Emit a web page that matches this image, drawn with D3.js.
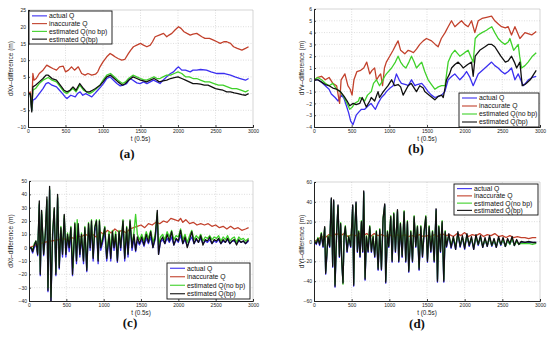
<!DOCTYPE html>
<html>
<head>
<meta charset="utf-8">
<script src="https://cdn.jsdelivr.net/npm/d3@7"></script>
<style>
  body { margin: 0; background: #fff; }
  svg { display: block; }
  .tick text { font-family: "Liberation Sans", Arial, sans-serif; font-size: 5px; fill: #222; }
  .lab { font-family: "Liberation Sans", Arial, sans-serif; fill: #222; }
  .legtxt { font-family: "Liberation Sans", Arial, sans-serif; font-size: 6.8px; fill: #111; }
  .panel-id { font-family: "Liberation Serif", "DejaVu Serif", serif; font-weight: bold; font-size: 13px; fill: #111; }
</style>
</head>
<body>
<div id="chart"></div>
<script>
// series names and colours
var seriesNames = ["actual Q", "inaccurate Q", "estimated Q(no bp)", "estimated Q(bp)"];
var seriesColors = ["#3b2ff0", "#c2412c", "#3fd12a", "#111111"];

var xTicks = [0, 500, 1000, 1500, 2000, 2500, 3000];

// ---- panel (a): dXv-difference ----
var aBlue = [[0,0],[30,0],[50,-5],[65,-2],[100,-1.5],[150,0],[200,1.5],[240,3],[270,3.3],[320,2.5],[380,2],[420,1],[460,0],[495,-1],[520,-1.5],[570,-0.5],[630,-1],[660,0],[695,0.5],[730,-0.5],[770,0],[810,-0.5],[850,-1],[890,0],[930,1],[970,2],[1005,3],[1050,4.5],[1095,5],[1140,4],[1185,3],[1230,2.3],[1270,2.5],[1315,3],[1360,4.5],[1400,4],[1450,3.2],[1495,3],[1540,3.5],[1585,3],[1630,3.5],[1673,4],[1720,3.5],[1760,3],[1800,4],[1850,5],[1900,6],[1940,6.5],[1980,7.5],[2007,8],[2050,7],[2100,7],[2163,6.5],[2200,7],[2250,7],[2300,7.2],[2380,7],[2440,6.5],[2520,6],[2563,6],[2620,6],[2700,5.5],[2760,5],[2830,4.5],[2900,4],[2941,4.5]];
var aRed = [[0,0],[30,0.5],[50,-4],[65,6],[80,4],[110,4.5],[150,6],[200,7],[250,8.5],[290,8],[330,7.5],[380,7],[420,8],[470,8.2],[500,6.5],[540,7],[580,8],[620,7],[670,8],[715,6],[760,5.5],[800,6],[850,5.5],[900,5.8],[930,6.5],[960,8],[1000,9.5],[1050,11],[1095,12],[1130,11.5],[1160,11],[1200,10.5],[1250,10],[1290,10.2],[1340,12],[1370,13],[1406,14],[1450,14.5],[1500,15],[1540,14.5],[1585,14],[1630,14.5],[1660,15.5],[1695,17],[1750,17.5],[1807,18],[1850,17],[1880,17.5],[1918,18],[1960,19],[2007,20],[2040,19.5],[2080,18.5],[2120,18],[2163,17.5],[2200,17.8],[2250,18],[2318,17],[2360,16.5],[2420,16.5],[2474,16],[2520,15.5],[2563,15],[2610,15.5],[2650,15.5],[2700,15],[2741,14],[2790,13.5],[2852,13],[2900,13.5],[2941,14]];
var aGreen = [[0,0],[30,0],[50,-5],[65,1],[100,1.5],[150,3],[200,4],[270,4.8],[320,4],[380,3.5],[430,2],[480,0.5],[520,0],[570,1],[600,1.5],[640,0.5],[690,2.5],[740,1],[780,0.5],[820,0],[860,0.5],[900,1.2],[960,2.5],[1000,4],[1050,5.5],[1100,6],[1150,5],[1200,4],[1260,3],[1300,3.5],[1340,4.5],[1400,5.5],[1450,5],[1500,4.5],[1540,4.2],[1580,4],[1630,4.5],[1680,5],[1720,4.5],[1760,4.5],[1800,5],[1850,5.5],[1900,5.5],[1950,6],[2000,6.5],[2050,6],[2100,5],[2150,5],[2200,4.5],[2250,4.5],[2300,4],[2360,3.5],[2420,3.5],[2480,3],[2540,2.5],[2600,2.5],[2660,2],[2720,1.5],[2780,1.5],[2840,1],[2900,0.5],[2941,1]];
var aBlack = [[0,0],[30,0],[50,-5.5],[65,2],[100,2.5],[150,3.5],[200,4.5],[240,5.5],[270,5.5],[320,4.5],[380,4],[430,2.5],[480,1],[520,0.5],[560,1],[600,2],[640,1],[690,3],[740,1.5],[780,0.5],[820,0.5],[860,1],[900,1.5],[960,2.5],[1000,3.5],[1050,5],[1100,5.5],[1150,4.5],[1200,3.5],[1260,2.5],[1300,3],[1340,4],[1400,5],[1450,4.5],[1500,4],[1540,3.8],[1580,3.5],[1630,4],[1680,4.5],[1720,4],[1750,3.5],[1800,3.8],[1850,4],[1900,4.5],[1950,4.8],[2000,5],[2050,4.5],[2100,4],[2150,3.5],[2200,3],[2250,3],[2300,2.8],[2350,2.5],[2400,2.5],[2450,2],[2500,1.5],[2560,1.2],[2600,1],[2650,0.5],[2700,0.5],[2750,0.2],[2800,0],[2850,-0.3],[2900,-0.5],[2941,0]];
var aYTicks = [-10, -5, 0, 5, 10, 15, 20, 25];

// ---- panel (b): dYv-difference ----
var bBlue = [[0,0],[50,0],[100,-0.2],[150,-0.5],[200,-0.8],[230,-1.2],[280,-1.5],[320,-1.8],[364,-1.3],[400,-1.6],[430,-2.2],[460,-2.8],[487,-3.5],[518,-3.8],[560,-3],[600,-2.7],[630,-2.5],[673,-2.5],[720,-2.2],[757,-2],[790,-2.3],[815,-2.5],[850,-2],[895,-1.5],[940,-1.2],[961,-1],[1010,-0.7],[1050,-0.5],[1094,0.5],[1130,0],[1160,-0.3],[1220,-0.4],[1250,-0.5],[1294,0],[1340,-0.5],[1370,-0.4],[1430,-0.3],[1470,-0.6],[1515,-1],[1560,-1.3],[1604,-1.5],[1650,-1.4],[1693,-1.3],[1737,-1],[1781,0],[1830,0.3],[1869,0.5],[1936,0],[1980,0.3],[2025,0.7],[2070,0.2],[2113,-0.5],[2180,0.5],[2270,1],[2357,1.5],[2400,1.2],[2445,1],[2490,0.7],[2534,0.5],[2578,0.7],[2622,1],[2667,0],[2711,0.5],[2778,-0.5],[2820,-0.2],[2845,0],[2900,0.2],[2950,0.3]];
var bRed = [[0,0],[50,0.2],[100,0.3],[150,0],[200,0.2],[250,-0.3],[300,-0.5],[340,-2],[360,0],[410,0.5],[450,-0.5],[480,-0.8],[505,-1.3],[530,0],[570,0.7],[620,0.8],[660,1],[700,1.5],[740,0.5],[770,0.8],[805,1],[830,0],[860,0.3],[885,0.5],[910,-0.5],[935,1],[960,1.5],[1005,2],[1050,2.5],[1090,3],[1116,3.3],[1150,2.5],[1205,2.2],[1250,2.5],[1290,2.4],[1320,2.3],[1360,2.6],[1404,3],[1450,3.3],[1493,3.5],[1560,3.3],[1610,3],[1648,2.8],[1690,3.5],[1740,4],[1781,4.5],[1825,5],[1870,4.5],[1920,4.8],[1958,5],[2000,4.7],[2046,4.5],[2091,5],[2135,4],[2180,5],[2230,5.2],[2290,5.3],[2357,5.4],[2400,5],[2450,4.7],[2490,4.5],[2540,4.4],[2578,4.5],[2622,3.8],[2667,4.5],[2700,4],[2733,3.5],[2800,4],[2890,3.8],[2950,4.1]];
var bGreen = [[0,0],[50,0.2],[100,0],[150,-0.3],[200,-0.5],[250,-0.3],[300,-0.8],[350,-1],[400,-1.5],[440,-2],[474,-2.5],[510,-2.3],[540,-2],[590,-1.8],[606,-1.5],[640,-1.6],[673,-1.8],[710,-1.3],[760,-1],[790,-0.3],[828,0],[870,-0.5],[900,-0.2],[940,0.3],[961,0.5],[1030,1],[1080,1.5],[1116,2],[1150,1.5],[1183,1.2],[1220,1],[1260,1.5],[1294,2],[1330,1.5],[1360,1],[1400,1.3],[1430,1.5],[1470,0.7],[1515,0],[1560,-0.4],[1604,-0.8],[1650,-0.6],[1693,-0.5],[1740,-0.5],[1760,0.5],[1781,1.5],[1830,2.2],[1869,2.5],[1910,2.2],[1936,2],[2000,2.3],[2046,2.5],[2091,1.8],[2113,1.5],[2140,3.5],[2180,3.8],[2230,4],[2290,4.2],[2312,4.3],[2360,4.5],[2400,4],[2445,3.5],[2490,3.2],[2534,3],[2578,3.2],[2600,3.5],[2650,2.5],[2711,3],[2730,2],[2755,1],[2800,1.2],[2842,1.5],[2900,2],[2950,2.3]];
var bBlack = [[0,0],[50,0],[100,-0.2],[150,-0.4],[200,-0.5],[250,-0.7],[300,-0.8],[350,-1],[400,-1.4],[440,-1.8],[474,-2.2],[520,-2],[560,-2.1],[607,-2],[640,-1.5],[695,-2.3],[740,-1.8],[760,-1.5],[805,-1.8],[850,-1],[870,-1.5],[920,-1],[983,-0.5],[1030,0],[1070,-0.5],[1116,-0.4],[1150,-0.6],[1183,-1.3],[1250,-0.5],[1290,-0.3],[1360,-1],[1404,-0.5],[1450,-0.7],[1470,-1],[1530,-1.3],[1604,-1.7],[1650,-1.4],[1693,-1.3],[1716,-1.5],[1759,0],[1800,0.5],[1826,1],[1870,1.3],[1914,1.5],[1958,1.2],[1980,1],[2040,1.3],[2091,1.5],[2113,0.3],[2140,2],[2200,2.5],[2270,2.8],[2312,3],[2360,3],[2400,2.8],[2450,2.3],[2480,2],[2540,1.5],[2578,1.6],[2622,2],[2660,1.5],[2690,1],[2733,1.5],[2764,-0.5],[2800,-0.4],[2820,-0.3],[2870,0],[2920,0.5],[2950,0.8]];
var bYTicks = [-4, -3, -2, -1, 0, 1, 2, 3, 4, 5, 6];

// ---- panel (c): dXt-difference ----
var cBlue = [[0,0],[30,-1],[49,-4],[71,0],[93,3],[116,-6],[138,32],[151,-21],[169,25],[196,-6],[218,8],[240,35],[254,-33],[276,43],[294,-40],[316,8],[338,27],[360,-21],[383,37],[405,-16],[427,13],[449,-7],[472,22],[494,-7],[516,8],[538,-3],[561,13],[583,-21],[614,15],[636,-12],[659,15],[681,-7],[703,8],[730,-12],[748,13],[774,-18],[797,15],[819,-2],[837,17],[859,-10],[881,12],[903,17],[926,-12],[943,17],[961,-2],[983,3],[1015,12],[1041,-10],[1072,8],[1095,-10],[1117,10],[1139,-2],[1161,8],[1184,-11],[1206,10],[1228,-2],[1259,17],[1282,-10],[1308,12],[1326,-7],[1353,17],[1380,-2],[1406,7],[1428,-3],[1451,5],[1480,2],[1510,6],[1540,1],[1570,7],[1600,3],[1630,8],[1660,0],[1690,6],[1718,22],[1735,-5],[1760,4],[1790,6],[1820,3],[1850,7],[1880,4],[1910,8],[1940,2],[1970,6],[2000,4],[2030,9],[2060,3],[2090,6],[2120,1],[2150,5],[2180,8],[2210,3],[2240,6],[2270,4],[2300,7],[2330,3],[2360,5],[2390,4],[2420,6],[2450,3],[2480,5],[2510,4],[2540,6],[2570,3],[2600,5],[2630,4],[2660,6],[2690,3],[2720,5],[2750,5],[2780,3],[2810,5],[2840,4],[2870,5],[2900,3],[2941,5]];
var cRed = [[0,0],[100,2],[200,4],[300,5],[400,6],[450,7],[500,6],[550,8],[600,7],[650,9],[700,8],[750,10],[800,9],[850,10],[900,8],[950,12],[1000,10],[1050,13],[1100,11],[1150,14],[1200,12],[1250,13],[1300,11],[1350,14],[1400,15],[1450,16],[1500,17],[1550,15],[1600,18],[1650,17],[1700,19],[1750,18],[1800,20],[1850,19],[1900,22],[1950,21],[2000,20],[2030,22],[2060,19],[2100,21],[2150,18],[2200,19],[2250,17],[2300,18],[2350,17],[2400,18],[2450,16],[2500,17],[2550,15],[2600,16],[2650,14],[2700,16],[2750,14],[2800,15],[2850,13],[2900,14],[2941,15]];
var cGreen = [[0,0],[30,0],[49,-2],[71,3],[93,5],[116,-4],[138,33],[151,-18],[169,27],[196,-3],[218,11],[240,36],[254,-30],[276,44],[294,-37],[316,11],[338,29],[360,-18],[383,38],[405,-13],[427,16],[449,-3],[472,24],[494,-3],[516,11],[538,2],[561,16],[590,-15],[614,19],[636,-8],[645,21],[681,-3],[703,11],[730,-8],[748,16],[774,-15],[797,19],[819,2],[837,21],[859,-6],[881,16],[903,21],[926,-8],[943,21],[961,2],[983,7],[1015,16],[1041,-6],[1072,12],[1100,-3],[1117,13],[1139,2],[1161,12],[1184,-8],[1206,13],[1228,2],[1259,21],[1282,-6],[1308,16],[1326,-3],[1353,21],[1380,2],[1406,12],[1428,25],[1451,10],[1480,6],[1510,10],[1540,5],[1570,12],[1600,7],[1630,13],[1660,4],[1690,10],[1718,26],[1735,2],[1760,8],[1790,10],[1820,6],[1850,12],[1880,8],[1910,13],[1940,6],[1970,9],[2000,8],[2030,14],[2060,6],[2090,10],[2120,4],[2150,9],[2180,13],[2210,6],[2240,9],[2270,7],[2300,10],[2330,5],[2360,8],[2390,7],[2420,9],[2450,6],[2480,8],[2510,7],[2540,9],[2570,5],[2600,8],[2630,6],[2660,9],[2690,5],[2720,7],[2750,8],[2780,4],[2810,8],[2840,6],[2870,7],[2900,5],[2941,7]];
var cBlack = [[0,0],[30,0],[49,-3],[71,2],[93,5],[116,-5],[138,35],[151,-20],[169,28],[196,-5],[218,10],[240,38],[254,-32],[276,46],[294,-40],[316,10],[338,30],[360,-20],[383,40],[405,-15],[427,15],[449,-5],[472,25],[494,-5],[516,10],[538,0],[561,15],[583,-20],[614,18],[636,-10],[659,18],[681,-5],[703,10],[730,-10],[748,15],[774,-17],[797,18],[819,0],[837,20],[859,-8],[881,15],[903,20],[926,-10],[943,20],[961,0],[983,5],[1015,15],[1041,-8],[1072,10],[1095,-8],[1117,12],[1139,0],[1161,10],[1184,-10],[1206,12],[1228,0],[1259,20],[1282,-8],[1308,15],[1326,-5],[1353,20],[1380,0],[1406,10],[1428,-2],[1451,8],[1480,3],[1510,8],[1540,2],[1570,10],[1600,4],[1630,12],[1660,0],[1690,8],[1718,28],[1735,-5],[1760,5],[1790,8],[1820,3],[1850,10],[1880,5],[1910,12],[1940,2],[1970,7],[2000,5],[2030,13],[2060,3],[2090,8],[2120,0],[2150,6],[2180,12],[2210,3],[2240,7],[2270,4],[2300,9],[2330,2],[2360,6],[2390,5],[2420,8],[2450,3],[2480,6],[2510,5],[2540,7],[2570,3],[2600,6],[2630,4],[2660,7],[2690,3],[2720,5],[2750,6],[2780,2],[2810,6],[2840,4],[2870,5],[2900,3],[2941,6]];
var cYTicks = [-40, -30, -20, -10, 0, 10, 20, 30, 40, 50];

// ---- panel (d): dYt-difference ----
var dBlue = [[0,0],[30,-3],[53,2],[75,-4],[97,6],[120,-6],[142,13],[155,-33],[186,4],[208,-6],[230,43],[248,-26],[261,41],[279,-46],[301,8],[319,36],[337,-16],[354,16],[368,-21],[385,-41],[399,3],[416,13],[439,-11],[461,3],[487,-6],[514,36],[527,-45],[540,8],[558,39],[576,-11],[594,8],[611,-16],[629,18],[647,-11],[660,50],[678,-39],[696,3],[718,-11],[740,13],[762,-11],[784,3],[806,-16],[828,8],[851,-29],[873,10],[895,-29],[917,21],[939,37],[952,-42],[975,8],[992,-6],[1019,23],[1037,-21],[1059,27],[1081,-11],[1108,30],[1125,-21],[1147,16],[1170,-16],[1196,29],[1218,-21],[1240,18],[1258,-31],[1285,8],[1307,-21],[1329,23],[1351,-6],[1373,13],[1395,-29],[1418,13],[1440,-16],[1462,8],[1484,23],[1506,-21],[1528,13],[1551,-11],[1573,8],[1595,-21],[1621,32],[1639,-41],[1657,13],[1679,-11],[1701,18],[1723,-41],[1741,8],[1759,-6],[1790,6],[1820,-7],[1850,3],[1880,-8],[1910,8],[1940,-6],[1970,4],[2000,-8],[2030,6],[2060,-5],[2090,3],[2120,-8],[2150,5],[2180,-4],[2210,4],[2240,-6],[2270,2],[2300,-5],[2330,4],[2360,-5],[2390,1],[2420,-6],[2450,3],[2480,-4],[2510,2],[2540,-5],[2570,1],[2600,-3],[2630,3],[2660,-4],[2690,1],[2720,-3],[2750,-1],[2800,-1],[2850,-1],[2900,-1],[2950,-1]];
var dRed = [[0,0],[50,2],[100,5],[150,4],[200,7],[250,5],[300,8],[350,6],[400,8],[450,5],[500,7],[550,6],[600,8],[650,6],[700,8],[750,5],[800,8],[850,6],[900,7],[950,5],[1000,7],[1050,5],[1100,7],[1150,5],[1200,7],[1250,5],[1300,6],[1350,5],[1400,7],[1450,5],[1500,6],[1550,5],[1600,7],[1650,5],[1700,8],[1750,6],[1800,7],[1850,5],[1900,8],[1950,6],[2000,9],[2050,5],[2100,7],[2150,6],[2200,8],[2250,5],[2300,7],[2350,6],[2400,8],[2450,5],[2500,6],[2550,4],[2600,6],[2650,4],[2700,5],[2750,4],[2800,4],[2850,3],[2900,4],[2950,4]];
var dGreen = [[0,1],[30,-1],[53,4],[75,-2],[97,9],[120,-4],[142,14],[155,-30],[186,6],[208,-4],[230,42],[248,-23],[261,40],[279,-43],[301,11],[319,35],[337,-13],[354,19],[368,-18],[385,-43],[399,6],[416,16],[439,-8],[461,6],[487,-4],[514,35],[527,-42],[540,11],[558,38],[576,-8],[594,11],[611,-13],[629,21],[647,-8],[660,49],[678,-36],[696,6],[718,-8],[740,16],[762,-8],[784,6],[806,-13],[828,11],[851,-26],[873,13],[895,-26],[917,24],[939,36],[952,-39],[975,11],[992,-4],[1019,26],[1037,-18],[1059,29],[1081,-8],[1108,31],[1125,-18],[1147,19],[1170,-13],[1196,31],[1218,-18],[1240,21],[1258,-28],[1285,11],[1307,-18],[1329,26],[1351,-4],[1373,16],[1395,-26],[1418,16],[1440,-13],[1462,11],[1484,26],[1506,-18],[1528,16],[1551,-8],[1573,11],[1595,-18],[1621,31],[1639,-38],[1657,16],[1679,-8],[1701,21],[1723,-38],[1741,11],[1759,-3],[1790,6],[1820,-4],[1850,4],[1880,-5],[1910,8],[1940,-4],[1970,4],[2000,-5],[2030,6],[2060,-3],[2090,3],[2120,-6],[2150,5],[2180,-3],[2210,4],[2240,-5],[2270,2],[2300,-4],[2330,4],[2360,-4],[2390,1],[2420,-5],[2450,3],[2480,-3],[2510,2],[2540,-5],[2570,1],[2600,-3],[2630,3],[2660,-4],[2690,0],[2720,-3],[2750,-2],[2800,-2],[2850,-2],[2900,-3],[2950,-2]];
var dBlack = [[0,0],[30,-2],[53,3],[75,-3],[97,8],[120,-5],[142,15],[155,-32],[186,5],[208,-5],[230,44],[248,-25],[261,42],[279,-45],[301,10],[319,37],[337,-15],[354,18],[368,-20],[385,-42],[399,5],[416,15],[439,-10],[461,5],[487,-5],[514,37],[527,-44],[540,10],[558,40],[576,-10],[594,10],[611,-15],[629,20],[647,-10],[660,51],[678,-38],[696,5],[718,-10],[740,15],[762,-10],[784,5],[806,-15],[828,10],[851,-28],[873,12],[895,-28],[917,23],[939,38],[952,-41],[975,10],[992,-5],[1019,25],[1037,-20],[1059,28],[1081,-10],[1108,32],[1125,-20],[1147,18],[1170,-15],[1196,30],[1218,-20],[1240,20],[1258,-30],[1285,10],[1307,-20],[1329,25],[1351,-5],[1373,15],[1395,-28],[1418,15],[1440,-15],[1462,10],[1484,25],[1506,-20],[1528,15],[1551,-10],[1573,10],[1595,-20],[1621,33],[1639,-40],[1657,15],[1679,-10],[1701,20],[1723,-40],[1741,10],[1759,-5],[1790,8],[1820,-6],[1850,5],[1880,-8],[1910,10],[1940,-5],[1970,6],[2000,-7],[2030,8],[2060,-4],[2090,5],[2120,-8],[2150,7],[2180,-3],[2210,6],[2240,-6],[2270,4],[2300,-5],[2330,6],[2360,-4],[2390,3],[2420,-6],[2450,5],[2480,-3],[2510,4],[2540,-5],[2570,3],[2600,-2],[2630,5],[2660,-4],[2690,2],[2720,-3],[2750,0],[2800,-1],[2850,0],[2900,-1],[2950,-1]];
var dYTicks = [-60, -40, -20, 0, 20, 40, 60];

function init() {
    var W = 550, H = 337;

    var svg = d3.select("#chart")
        .append("svg")
        .attr("width", W)
        .attr("height", H);

    // layout of the four sub-plots (pixel boxes)
    var panels = [
        { id: "a", x0: 28, x1: 253, y0: 10, y1: 127, yDom: [-10, 25], yTicks: aYTicks,
          ylabel: "dXv\u2013difference (m)", ylx: 11, series: [aBlue, aRed, aGreen, aBlack],
          leg: [29, 11, 83, 33], idx: 127, idy: 158 },
        { id: "b", x0: 314, x1: 540, y0: 9, y1: 127, yDom: [-4, 6], yTicks: bYTicks,
          ylabel: "dYv\u2013difference (m)", ylx: 302, series: [bBlue, bRed, bGreen, bBlack],
          leg: [459, 93, 80, 34], idx: 416, idy: 153 },
        { id: "c", x0: 29, x1: 253, y0: 181, y1: 301, yDom: [-40, 50], yTicks: cYTicks,
          ylabel: "dXt\u2013difference (m)", ylx: 11, series: [cBlue, cRed, cGreen, cBlack],
          leg: [167, 263, 83, 36], idx: 130, idy: 327 },
        { id: "d", x0: 314, x1: 540, y0: 182, y1: 301, yDom: [-60, 60], yTicks: dYTicks,
          ylabel: "dYt\u2013difference (m)", ylx: 302, series: [dBlue, dRed, dGreen, dBlack],
          leg: [454, 184, 84, 31], idx: 417, idy: 328 }
    ];

    panels.forEach(function (p) {
        var xScale = d3.scaleLinear().domain([0, 3000]).range([p.x0, p.x1]);
        var yScale = d3.scaleLinear().domain(p.yDom).range([p.y1, p.y0]);
        var g = svg.append("g");

        // dotted grid
        g.selectAll(".gx").data(xTicks.slice(1, -1)).enter().append("line")
            .attr("x1", function (d) { return xScale(d); })
            .attr("x2", function (d) { return xScale(d); })
            .attr("y1", p.y0).attr("y2", p.y1)
            .attr("stroke", "#c8c8c8").attr("stroke-width", 0.6)
            .attr("stroke-dasharray", "1,1.5");
        g.selectAll(".gy").data(p.yTicks.slice(1, -1)).enter().append("line")
            .attr("y1", function (d) { return yScale(d); })
            .attr("y2", function (d) { return yScale(d); })
            .attr("x1", p.x0).attr("x2", p.x1)
            .attr("stroke", "#c8c8c8").attr("stroke-width", 0.6)
            .attr("stroke-dasharray", "1,1.5");

        // top / right frame (light)
        g.append("path")
            .attr("d", "M" + p.x0 + "," + p.y0 + "H" + p.x1 + "V" + p.y1)
            .attr("fill", "none").attr("stroke", "#bbb").attr("stroke-width", 0.6);

        // clip for the lines
        var clipId = "clip-" + p.id;
        svg.append("clipPath").attr("id", clipId)
            .append("rect")
            .attr("x", p.x0).attr("y", p.y0)
            .attr("width", p.x1 - p.x0).attr("height", p.y1 - p.y0);

        var line = d3.line()
            .x(function (d) { return xScale(d[0]); })
            .y(function (d) { return yScale(d[1]); });

        g.append("g").attr("clip-path", "url(#" + clipId + ")")
            .selectAll("path")
            .data(p.series)
            .enter()
            .append("path")
            .attr("d", line)
            .attr("fill", "none")
            .attr("stroke", function (d, i) { return seriesColors[i]; })
            .attr("stroke-width", 1.3)
            .attr("stroke-linejoin", "round");

        // axes
        var xAxis = d3.axisBottom(xScale).tickValues(xTicks).tickFormat(d3.format("d"))
            .tickSize(-2).tickPadding(2);
        var yAxis = d3.axisLeft(yScale).tickValues(p.yTicks).tickFormat(d3.format("d"))
            .tickSize(-2).tickPadding(2);

        var gx = g.append("g").attr("transform", "translate(0," + p.y1 + ")").call(xAxis);
        var gy = g.append("g").attr("transform", "translate(" + p.x0 + ",0)").call(yAxis);
        [gx, gy].forEach(function (ax) {
            ax.select(".domain").attr("stroke", "#222").attr("stroke-width", 1);
            ax.selectAll(".tick line").attr("stroke", "#222").attr("stroke-width", 0.8);
        });

        // axis labels
        g.append("text")
            .attr("class", "lab")
            .attr("x", (p.x0 + p.x1) / 2)
            .attr("y", p.y1 + 13.5)
            .attr("text-anchor", "middle")
            .attr("font-size", 6.3)
            .text("t (0.5s)");

        g.append("text")
            .attr("class", "lab")
            .attr("transform", "translate(" + p.ylx + "," + ((p.y0 + p.y1) / 2) + ") rotate(-90)")
            .attr("text-anchor", "middle")
            .attr("dy", "0.35em")
            .attr("font-size", 6.5)
            .text(p.ylabel);

        // legend
        var lg = g.append("g").attr("transform", "translate(" + p.leg[0] + "," + p.leg[1] + ")");
        lg.append("rect")
            .attr("width", p.leg[2]).attr("height", p.leg[3])
            .attr("fill", "#fff").attr("stroke", "#111").attr("stroke-width", 0.9);
        var rowH = (p.leg[3] - 2) / 4;
        var rows = lg.selectAll(".row").data(seriesNames).enter().append("g")
            .attr("transform", function (d, i) { return "translate(0," + (1 + rowH * (i + 0.5)) + ")"; });
        rows.append("line")
            .attr("x1", 3).attr("x2", 18)
            .attr("stroke", function (d, i) { return seriesColors[i]; })
            .attr("stroke-width", 1.1);
        rows.append("text")
            .attr("class", "legtxt")
            .attr("x", 20)
            .attr("dy", "0.35em")
            .text(function (d) { return d; });

        // panel caption
        g.append("text")
            .attr("class", "panel-id")
            .attr("x", p.idx)
            .attr("y", p.idy)
            .attr("text-anchor", "middle")
            .text("(" + p.id + ")");
    });
}

window.onload = init;
</script>
</body>
</html>
